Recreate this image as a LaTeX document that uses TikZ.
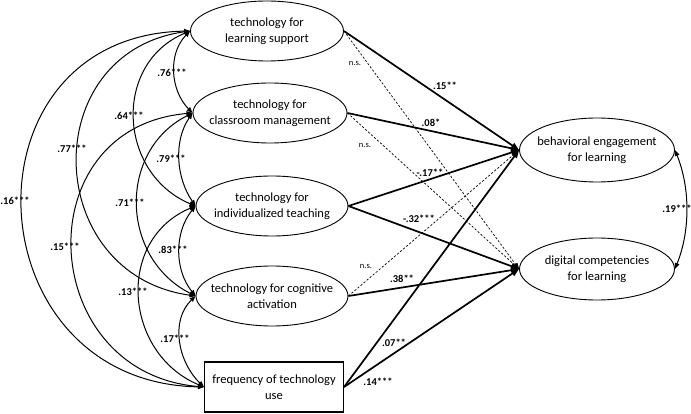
\documentclass[tikz,border=0pt]{standalone}
\usepackage{fontspec}
\setmainfont{Carlito}
\usetikzlibrary{shapes.geometric,arrows.meta}
\tikzset{
  lat/.style={ellipse, draw, line width=0.9pt, minimum width=#1, minimum height=60pt, inner sep=0pt},
  obs/.style={rectangle, draw, line width=1.1pt, minimum width=139pt, minimum height=50pt, inner sep=0pt},
  txt/.style={align=center, inner sep=0pt, font=\fontsize{12.5}{15.5}\selectfont},
  lab/.style={inner sep=0pt, font=\fontsize{10.5}{12}\selectfont\bfseries},
  nslab/.style={inner sep=0pt, font=\fontsize{8.5}{10}\selectfont},
  sig/.style={line width=1.7pt, -{Triangle[length=8pt,width=6pt]}},
  nsig/.style={line width=0.7pt, dash pattern=on 2.2pt off 1.8pt, -{Triangle[length=6pt,width=4.5pt]}},
  cov/.style={line width=1pt, {Triangle[length=6pt,width=4.5pt]}-{Triangle[length=6pt,width=4.5pt]}}
}
\begin{document}
\begin{tikzpicture}[x=1pt,y=-1pt]
\path[use as bounding box] (0,0) rectangle (691,414);

% predictors
\node[lat=153pt] (e1) at (267,31) {};
\node[txt] (t1) at (e1.center) {technology for\\learning support};
\node[lat=154pt] (e2) at (270,113) {};
\node[txt] (t2) at (e2.center) {technology for\\classroom management};
\node[lat=152pt] (e3) at (272,206) {};
\node[txt] (t3) at (e3.center) {technology for\\individualized teaching};
\node[lat=152pt] (e4) at (272,296) {};
\node[txt] (t4) at (e4.center) {technology for cognitive\\activation};
\node[obs] (fq) at (274,387) {};
\node[txt] (t5) at (fq.center) {frequency of technology\\use};

% outcomes
\node[lat=155pt, minimum height=64pt] (r1) at (597,150) {};
\node[txt] (t6) at (r1.center) {behavioral engagement\\for learning};
\node[lat=155pt, minimum height=62pt] (r2) at (597,269) {};
\node[txt] (t7) at (r2.center) {digital competencies\\for learning};

% covariances
\draw[cov] (e1.west) .. controls +(-22.3,22.8) and +(-22.3,-22.8) .. (e2.west);
\draw[cov] (e2.west) .. controls +(-19.3,28) and +(-19.3,-28) .. (e3.west);
\draw[cov] (e3.west) .. controls +(-21.3,26.2) and +(-21.3,-26.2) .. (e4.west);
\draw[cov] (e4.west) .. controls +(-25.7,24.9) and +(-25.7,-24.9) .. (fq.west);
\draw[cov] (e1.west) .. controls +(-77.7,32.5) and +(-77.7,-32.5) .. (e3.west);
\draw[cov] (e2.west) .. controls +(-75.3,37.7) and +(-75.3,-37.7) .. (e4.west);
\draw[cov] (e3.west) .. controls +(-80.3,33.6) and +(-80.3,-33.6) .. (fq.west);
\draw[cov] (e1.west) .. controls +(-153.7,21.5) and +(-153.7,-21.5) .. (e4.west);
\draw[cov] (e2.west) .. controls +(-167.7,14.4) and +(-167.7,-14.4) .. (fq.west);
\draw[cov] (e1.west) .. controls +(-232.7,4.6) and +(-232.7,-4.6) .. (fq.west);
\draw[cov] (r1.east) .. controls +(15.3,38.2) and +(15.3,-38.2) .. (r2.east);

\node[lab] (c1) at (172,73) {.76***};
\node[lab] (c2) at (171,159) {.79***};
\node[lab] (c3) at (173,250) {.83***};
\node[lab] (c4) at (175,339) {.17***};
\node[lab] (c5) at (129,116) {.64***};
\node[lab] (c6) at (130,203) {.71***};
\node[lab] (c7) at (133,292) {.13***};
\node[lab] (c8) at (72,149) {.77***};
\node[lab] (c9) at (65,247) {.15***};
\node[lab] (c10) at (15,201) {.16***};
\node[lab] (c11) at (677,209) {.19***};

% paths
\draw[nsig] (e1.east) -- (r2.west);
\draw[nsig] (e2.east) -- (r2.west);
\draw[nsig] (e4.east) -- (r1.west);
\draw[sig] (e1.east) -- (r1.west);
\draw[sig] (e2.east) -- (r1.west);
\draw[sig] (e3.east) -- (r1.west);
\draw[sig] (e3.east) -- (r2.west);
\draw[sig] (e4.east) -- (r2.west);
\draw[sig] (fq.east) -- (r1.west);
\draw[sig] (fq.east) -- (r2.west);

\node[lab] (p1) at (445,86) {.15**};
\node[lab] (p2) at (431,123) {.08*};
\node[lab] (p3) at (430,173) {-.17**};
\node[lab] (p4) at (419,219) {-.32***};
\node[lab] (p5) at (402,279) {.38**};
\node[lab] (p6) at (394,343) {.07**};
\node[lab] (p7) at (378,382) {.14***};
\node[nslab] (n1) at (355,63) {n.s.};
\node[nslab] (n2) at (365,145) {n.s.};
\node[nslab] (n3) at (366,266) {n.s.};
\end{tikzpicture}
\end{document}
